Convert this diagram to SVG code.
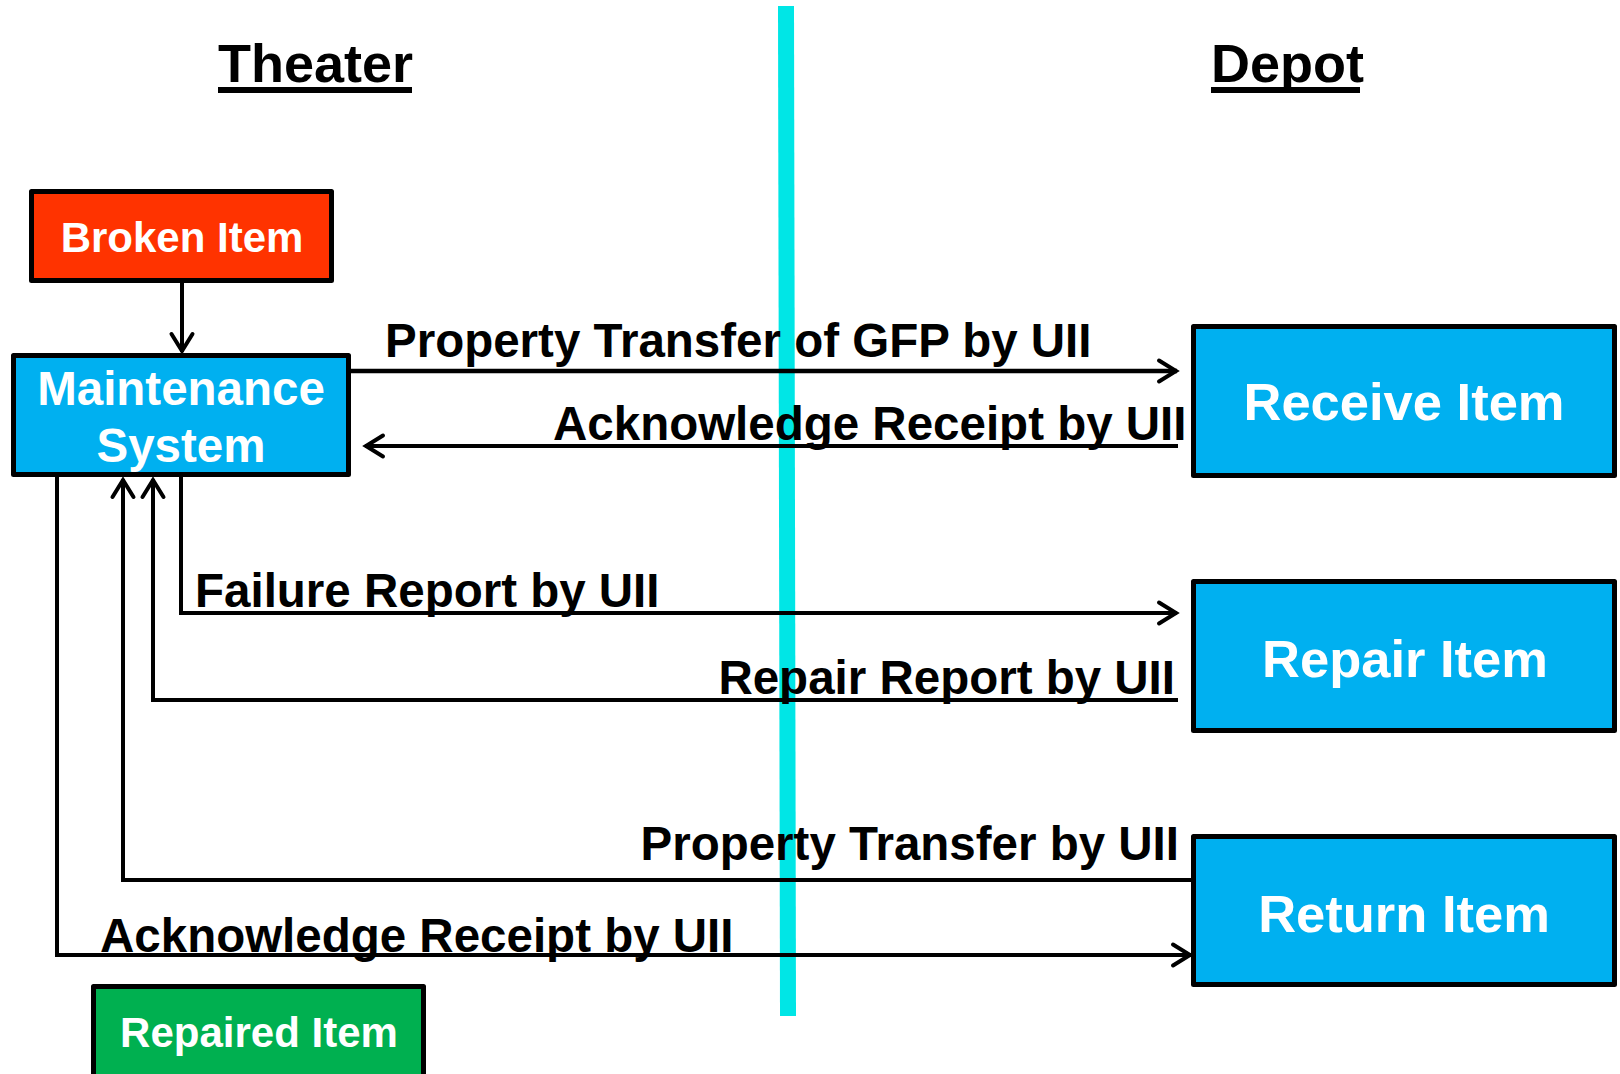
<svg xmlns="http://www.w3.org/2000/svg" width="1620" height="1074" viewBox="0 0 1620 1074">
<defs>
<style>
.box{stroke:#000;stroke-width:5;stroke-linejoin:round}
.nt{font-family:"Liberation Sans",Arial,sans-serif;font-weight:bold;fill:#fff;text-anchor:middle}
.lbl{font-family:"Liberation Sans",Arial,sans-serif;font-weight:bold;fill:#000;font-size:47.5px}
.hd{font-family:"Liberation Sans",Arial,sans-serif;font-weight:bold;fill:#000;font-size:54px}
.c{fill:none;stroke:#000;stroke-width:4;stroke-linejoin:miter}
.ct{stroke-width:4.5}
</style>
<marker id="ah" markerUnits="userSpaceOnUse" markerWidth="28" markerHeight="32" viewBox="-24 -16 28 32" refX="0" refY="0" orient="auto" overflow="visible">
<path d="M-18,-10.5 L-1,0 L-18,10.5" fill="none" stroke="#000" stroke-width="4" stroke-linecap="round"/>
</marker>
</defs>
<rect width="1620" height="1074" fill="#fff"/>
<polygon id="divider" points="778,6 794,6 796,1016 780,1016" fill="#00E6E6"/>
<g id="headers">
<text class="hd" x="218" y="82">Theater</text>
<rect x="218" y="87" width="194" height="6" fill="#000"/>
<text class="hd" x="1211" y="82">Depot</text>
<rect x="1211" y="87" width="149" height="6" fill="#000"/>
</g>
<g id="connectors">
<path class="c" d="M182,283 L182,352" marker-end="url(#ah)"/>
<path class="c ct" d="M351,371 L1177,371" marker-end="url(#ah)"/>
<path class="c" d="M1178,446 L365,446" marker-end="url(#ah)"/>
<path class="c" d="M181,477 L181,613 L1177,613" marker-end="url(#ah)"/>
<path class="c" d="M1178,700 L153,700 L153,479" marker-end="url(#ah)"/>
<path class="c" d="M1191,880 L123,880 L123,479" marker-end="url(#ah)"/>
<path class="c" d="M57,477 L57,955 L1191,955" marker-end="url(#ah)"/>
</g>
<g id="labels">
<text class="lbl" x="385" y="357">Property Transfer of GFP by UII</text>
<text class="lbl" x="553" y="440">Acknowledge Receipt by UII</text>
<text class="lbl" x="195" y="607">Failure Report by UII</text>
<text class="lbl" x="1175" y="694" text-anchor="end">Repair Report by UII</text>
<text class="lbl" x="1179" y="860" text-anchor="end">Property Transfer by UII</text>
<text class="lbl" x="100" y="952">Acknowledge Receipt by UII</text>
</g>
<g id="broken-item">
<rect class="box" x="31.5" y="191.5" width="300" height="89" fill="#FF3300"/>
<text class="nt" x="182" y="252" font-size="42">Broken Item</text>
</g>
<g id="maintenance-system">
<rect class="box" x="13.5" y="355.5" width="335" height="119" fill="#00B0F0"/>
<text class="nt" x="181" y="405" font-size="47.5">Maintenance</text>
<text class="nt" x="181" y="462" font-size="47.5">System</text>
</g>
<g id="receive-item">
<rect class="box" x="1193.5" y="326.5" width="421" height="149" fill="#00B0F0"/>
<text class="nt" x="1404" y="420" font-size="52.5">Receive Item</text>
</g>
<g id="repair-item">
<rect class="box" x="1193.5" y="581.5" width="421" height="149" fill="#00B0F0"/>
<text class="nt" x="1405" y="677" font-size="52.5">Repair Item</text>
</g>
<g id="return-item">
<rect class="box" x="1193.5" y="836.5" width="421" height="148" fill="#00B0F0"/>
<text class="nt" x="1404" y="932" font-size="52.5">Return Item</text>
</g>
<g id="repaired-item">
<rect class="box" x="93.5" y="986.5" width="330" height="120" fill="#00B050"/>
<text class="nt" x="259" y="1047" font-size="42">Repaired Item</text>
</g>
</svg>
